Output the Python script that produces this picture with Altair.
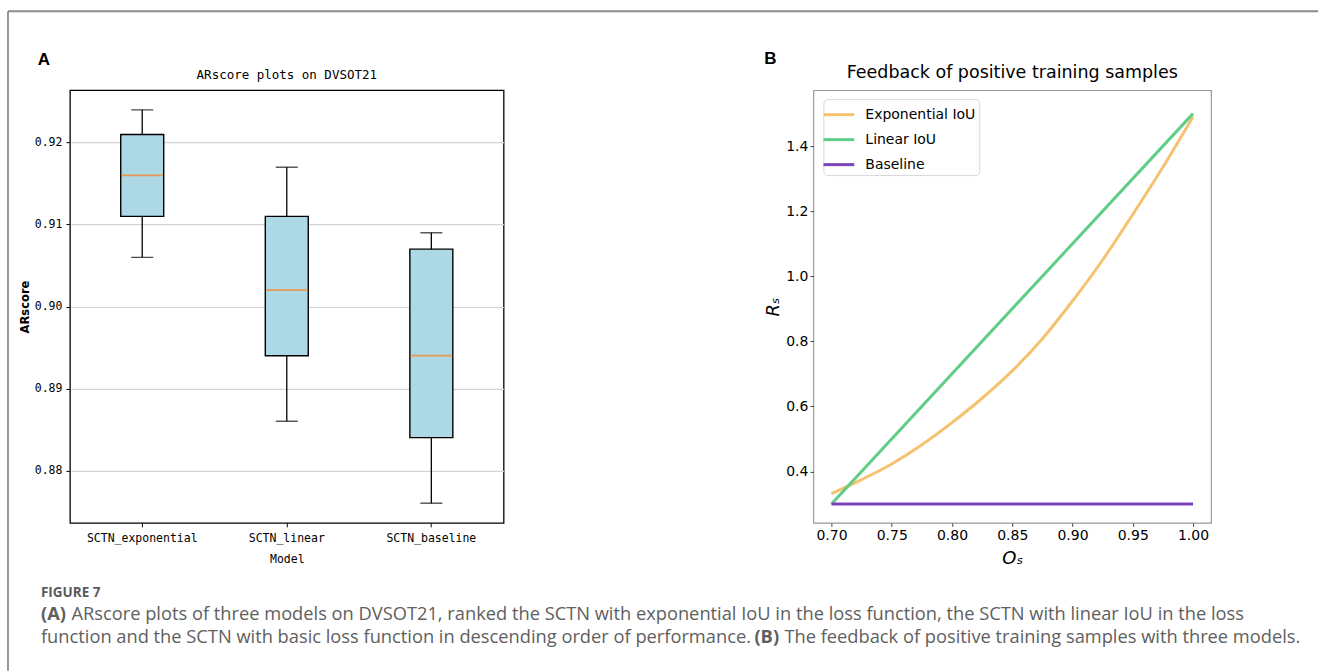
import altair as alt
import pandas as pd

# ---------------- Panel A data (box plot) ----------------
models = ["SCTN_exponential", "SCTN_linear", "SCTN_baseline"]
whisker_low = [0.906, 0.886, 0.876]
q1 = [0.911, 0.894, 0.884]
median = [0.916, 0.902, 0.894]
q3 = [0.921, 0.911, 0.907]
whisker_high = [0.924, 0.917, 0.909]
a_yticks = [0.88, 0.89, 0.90, 0.91, 0.92]

# ---------------- Panel B data (curves) ----------------
os_exp = [0.700, 0.725, 0.750, 0.775, 0.800, 0.825, 0.850, 0.875, 0.900, 0.925, 0.950, 0.975, 1.000]
rs_exp = [0.332, 0.375, 0.423, 0.482, 0.550, 0.625, 0.709, 0.808, 0.924, 1.050, 1.190, 1.335, 1.490]
os_lin = [0.70, 1.00]
rs_lin = [0.30, 1.50]
os_base = [0.70, 1.00]
rs_base = [0.30, 0.30]
series_names = ["Exponential IoU", "Linear IoU", "Baseline"]
series_colors = ["#f5c26f", "#5fcd86", "#7c44b8"]
b_xticks = [0.70, 0.75, 0.80, 0.85, 0.90, 0.95, 1.00]
b_yticks = [0.4, 0.6, 0.8, 1.0, 1.2, 1.4]

MONO = "DejaVu Sans Mono"
SANS = "DejaVu Sans"
CAP = "Open Sans"


def label(text, x, y, **kw):
    return alt.Chart(pd.DataFrame({"t": [text]})).mark_text(**kw).encode(
        text="t:N", x=alt.value(x), y=alt.value(y)
    )


# ---------------- Panel A ----------------
box_df = pd.DataFrame({"model": models, "lo": whisker_low, "q1": q1,
                       "med": median, "q3": q3, "hi": whisker_high})

xA_axis = alt.Axis(title="Model", labelAngle=0, labelFont=MONO, labelFontSize=11.5,
                   labelColor="black", titleFont=MONO, titleFontSize=11.5,
                   titleFontWeight="normal", titleColor="black", tickColor="black",
                   tickSize=4, labelPadding=6, titlePadding=9, domain=False, grid=False)
yA_axis = alt.Axis(title="ARscore", values=a_yticks, format=".2f", labelFont=MONO,
                   labelFontSize=11.5, labelColor="black", titleFont=SANS,
                   titleFontSize=11.5, titleFontWeight="bold", titleColor="black",
                   tickColor="black", tickSize=4, labelPadding=4, titlePadding=4,
                   domain=False, grid=True, gridColor="#d3d3d3", gridWidth=1.2)
xA = alt.X("model:N", sort=models, scale=alt.Scale(paddingInner=0, paddingOuter=0), axis=xA_axis)
yA_scale = alt.Scale(domain=[0.8736, 0.9264], nice=False, zero=False)

baseA = alt.Chart(box_df)
whisk = baseA.mark_rule(color="black", strokeWidth=1.3).encode(
    x=xA, y=alt.Y("lo:Q", scale=yA_scale, axis=yA_axis), y2="hi:Q")
boxes = baseA.mark_bar(size=43, fill="#add8e6", stroke="black", strokeWidth=1.4).encode(
    x=xA, y=alt.Y("q1:Q", scale=yA_scale, axis=yA_axis), y2="q3:Q")
meds = baseA.mark_tick(size=42, thickness=1.8, color="#ff7f0e").encode(
    x=xA, y=alt.Y("med:Q", scale=yA_scale, axis=yA_axis))
cap_lo = baseA.mark_tick(size=22, thickness=1.4, color="black").encode(
    x=xA, y=alt.Y("lo:Q", scale=yA_scale, axis=yA_axis))
cap_hi = baseA.mark_tick(size=22, thickness=1.4, color="black").encode(
    x=xA, y=alt.Y("hi:Q", scale=yA_scale, axis=yA_axis))

titleA = label("ARscore plots on DVSOT21", 217, -15, font=MONO, fontSize=12.5,
               align="center", baseline="middle", color="black")
letterA = label("A", -26, -30, font="Liberation Sans", fontSize=17, fontWeight="bold",
                align="center", baseline="middle", color="black")

frame_left = alt.Chart(pd.DataFrame({"k": [0]})).mark_rule(color="#8c8c8c", strokeWidth=1.8).encode(
    x=alt.value(-62), y=alt.value(-79), y2=alt.value(581))
frame_top = alt.Chart(pd.DataFrame({"k": [0]})).mark_rule(color="#8c8c8c", strokeWidth=1.8).encode(
    x=alt.value(-62), x2=alt.value(1249), y=alt.value(-79))

cap_style = dict(font=CAP, fontSize=18.3, align="left", baseline="middle", color="#606060")
fig_lbl = label("FIGURE 7", -29, 503, font=CAP, fontSize=13.5, fontWeight="bold",
                align="left", baseline="middle", color="#5a5a5a")
l1a = label("(A)", -29, 525, **{**cap_style, "fontWeight": "bold"})
l1b = label("ARscore plots of three models on DVSOT21, ranked the SCTN with exponential IoU in the loss function, the SCTN with linear IoU in the loss",
            1.5, 525, **cap_style)
l2a = label("function and the SCTN with basic loss function in descending order of performance.",
            -29, 548, **cap_style)
l2b = label("(B)", 685, 548, **{**cap_style, "fontWeight": "bold"})
l2c = label("The feedback of positive training samples with three models.", 715, 548, **cap_style)

panelA = alt.layer(
    whisk, boxes, meds, cap_lo, cap_hi, titleA, letterA,
    frame_left, frame_top, fig_lbl, l1a, l1b, l2a, l2b, l2c
).properties(width=434, height=433,
             view=alt.ViewBackground(stroke="black", strokeWidth=1.3))

# ---------------- Panel B ----------------
lines_df = pd.concat([
    pd.DataFrame({"series": series_names[0], "os": os_exp, "rs": rs_exp}),
    pd.DataFrame({"series": series_names[1], "os": os_lin, "rs": rs_lin}),
    pd.DataFrame({"series": series_names[2], "os": os_base, "rs": rs_base}),
], ignore_index=True)

xB_axis = alt.Axis(title="Oₛ", values=b_xticks, format=".2f", labelFont=SANS, labelFontSize=14,
                   labelColor="black", titleFont=SANS, titleFontSize=18, titleFontStyle="italic",
                   titleFontWeight="normal", titleColor="black", tickColor="#444", tickSize=3.5,
                   labelPadding=2.5, titlePadding=7, domain=False, grid=False)
yB_axis = alt.Axis(title="Rₛ", values=b_yticks, format=".1f", labelFont=SANS, labelFontSize=14,
                   labelColor="black", titleFont=SANS, titleFontSize=18, titleFontStyle="italic",
                   titleFontWeight="normal", titleColor="black", tickColor="#444", tickSize=3.5,
                   labelPadding=2, titlePadding=3, domain=False, grid=False)

lines = alt.Chart(lines_df).mark_line(strokeWidth=3, interpolate="monotone").encode(
    x=alt.X("os:Q", scale=alt.Scale(domain=[0.685, 1.015], nice=False, zero=False), axis=xB_axis),
    y=alt.Y("rs:Q", scale=alt.Scale(domain=[0.242, 1.572], nice=False, zero=False), axis=yB_axis),
    color=alt.Color("series:N", sort=series_names,
                    scale=alt.Scale(domain=series_names, range=series_colors),
                    legend=alt.Legend(title=None, orient="none", legendX=754, legendY=9,
                                      symbolType="M-1.4,0L1.4,0", symbolSize=484,
                                      symbolStrokeWidth=3, labelFont=SANS, labelFontSize=14,
                                      labelColor="black", labelOffset=14, rowPadding=5,
                                      padding=3, fillColor="white", strokeColor="#d6d6d6",
                                      cornerRadius=4)),
    detail="series:N",
)

titleB = label("Feedback of positive training samples", 199, -17, font=SANS, fontSize=17.5,
               align="center", baseline="middle", color="black")
letterB = label("B", -43, -31, font="Liberation Sans", fontSize=17, fontWeight="bold",
                align="center", baseline="middle", color="black")

panelB = alt.layer(lines, titleB, letterB).properties(
    width=398, height=433, view=alt.ViewBackground(stroke="#999999", strokeWidth=1.2))

chart = alt.hconcat(panelA, panelB, spacing=310, bounds="flush").properties(
    padding={"left": 6, "top": 9, "right": 0, "bottom": 0}, background="white"
)

chart.save("out.html", embed_options={"renderer": "svg", "actions": False})
